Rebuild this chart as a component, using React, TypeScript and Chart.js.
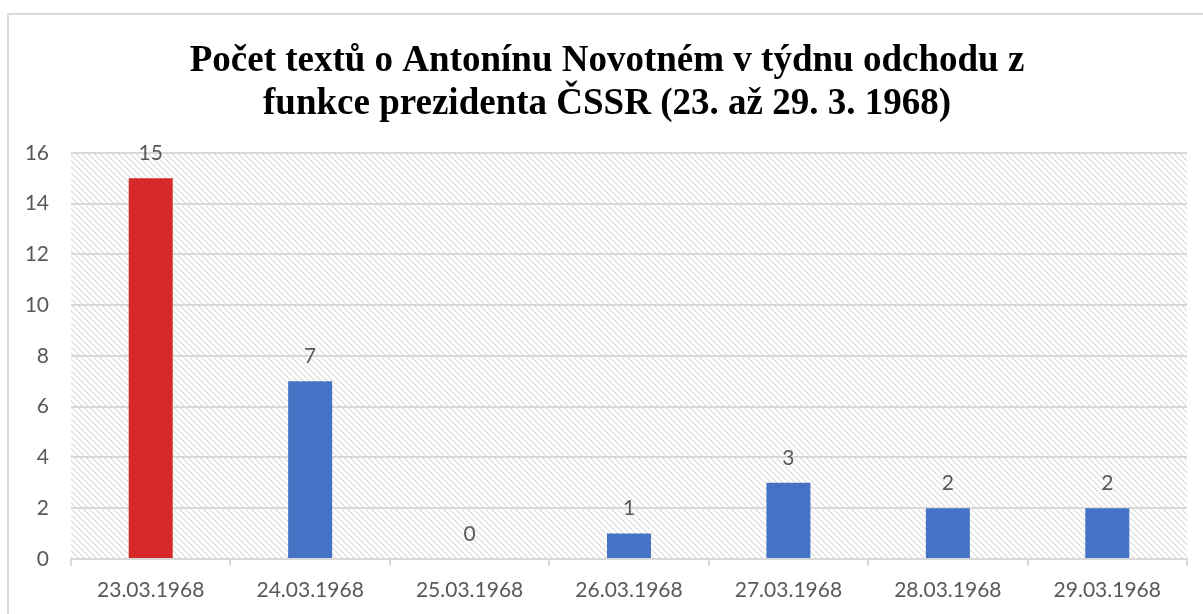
import React, { useEffect, useRef } from "react";
import { Chart, registerables } from "chart.js";

Chart.register(...registerables);

const categories = [
  "23.03.1968",
  "24.03.1968",
  "25.03.1968",
  "26.03.1968",
  "27.03.1968",
  "28.03.1968",
  "29.03.1968",
];
const counts = [15, 7, 0, 1, 3, 2, 2];
const barColors = ["#D62A2A", "#4472C4", "#4472C4", "#4472C4", "#4472C4", "#4472C4", "#4472C4"];
const titleLines = [
  "Počet textů o Antonínu Novotném v týdnu odchodu z",
  "funkce prezidenta ČSSR (23. až 29. 3. 1968)",
];
const yMin = 0;
const yMax = 16;
const yStep = 2;

const TEXT = "#595959";
const GRID = "#d9d9d9";
const SANS = "Lato, 'Open Sans', sans-serif";

function makeHatch(): CanvasPattern | string {
  const c = document.createElement("canvas");
  const n = 6;
  c.width = n;
  c.height = n;
  const g = c.getContext("2d");
  if (!g) return "#ffffff";
  g.fillStyle = "#ffffff";
  g.fillRect(0, 0, n, n);
  for (let i = 0; i < n; i++) {
    g.fillStyle = "#d9d9d9";
    g.fillRect(i, i, 1, 1);
    g.fillStyle = "#efefef";
    g.fillRect((i + 1) % n, i, 1, 1);
  }
  const p = g.createPattern(c, "repeat");
  return p || "#ffffff";
}

const hatchPlugin = {
  id: "hatchBg",
  beforeDraw(chart: any) {
    const { ctx, chartArea } = chart;
    if (!chartArea) return;
    ctx.save();
    ctx.fillStyle = makeHatch();
    ctx.fillRect(chartArea.left, chartArea.top, chartArea.right - chartArea.left, chartArea.bottom - chartArea.top);
    ctx.restore();
  },
};

const valueLabelPlugin = {
  id: "valueLabels",
  afterDatasetsDraw(chart: any) {
    const { ctx } = chart;
    const meta = chart.getDatasetMeta(0);
    const data = chart.data.datasets[0].data as number[];
    ctx.save();
    ctx.fillStyle = TEXT;
    ctx.font = `21px ${SANS}`;
    ctx.textAlign = "center";
    ctx.textBaseline = "middle";
    meta.data.forEach((el: any, i: number) => {
      ctx.fillText(String(data[i]), el.x, el.y - 25);
    });
    ctx.restore();
  },
};

export default function App() {
  const ref = useRef<HTMLCanvasElement | null>(null);

  useEffect(() => {
    if (!ref.current) return;
    const chart = new Chart(ref.current, {
      type: "bar",
      data: {
        labels: categories,
        datasets: [
          {
            data: counts,
            backgroundColor: barColors,
            borderWidth: 0,
            categoryPercentage: 1,
            barPercentage: 0.276,
          },
        ],
      },
      options: {
        animation: false,
        responsive: false,
        maintainAspectRatio: false,
        devicePixelRatio: 1,
        layout: { padding: { left: 18, right: 36, top: 0, bottom: 0 } },
        plugins: {
          legend: { display: false },
          tooltip: { enabled: false },
          title: {
            display: true,
            text: titleLines,
            color: "#000000",
            font: { family: "'Liberation Serif', 'Times New Roman', serif", size: 37, weight: "bold", lineHeight: 1.16 },
            padding: { top: 25, bottom: 27.1 },
          },
        },
        scales: {
          x: {
            grid: {
              display: true,
              drawOnChartArea: false,
              drawTicks: true,
              tickLength: 7,
              color: GRID,
              lineWidth: 2,
              offset: true,
            },
            border: { display: true, color: GRID, width: 2 },
            ticks: {
              color: TEXT,
              font: { family: SANS, size: 21 },
              padding: 12,
              maxRotation: 0,
              autoSkip: false,
            },
            afterFit(scale: any) {
              scale.height = 66;
            },
          },
          y: {
            min: yMin,
            max: yMax,
            grid: { color: GRID, lineWidth: 2, drawTicks: false },
            border: { display: false },
            ticks: {
              stepSize: yStep,
              color: TEXT,
              font: { family: SANS, size: 21 },
              padding: 22,
            },
            afterFit(scale: any) {
              scale.width = 44;
            },
          },
        },
      },
      plugins: [hatchPlugin, valueLabelPlugin],
    });
    return () => chart.destroy();
  }, []);

  return (
    <div
      style={{
        position: "fixed",
        left: 7,
        top: 13,
        width: 1240,
        height: 640,
        border: "2px solid #d9d9d9",
        background: "#ffffff",
        boxSizing: "border-box",
      }}
    >
      <canvas ref={ref} width={1214} height={610} style={{ display: "block", width: 1214, height: 610 }} />
    </div>
  );
}
